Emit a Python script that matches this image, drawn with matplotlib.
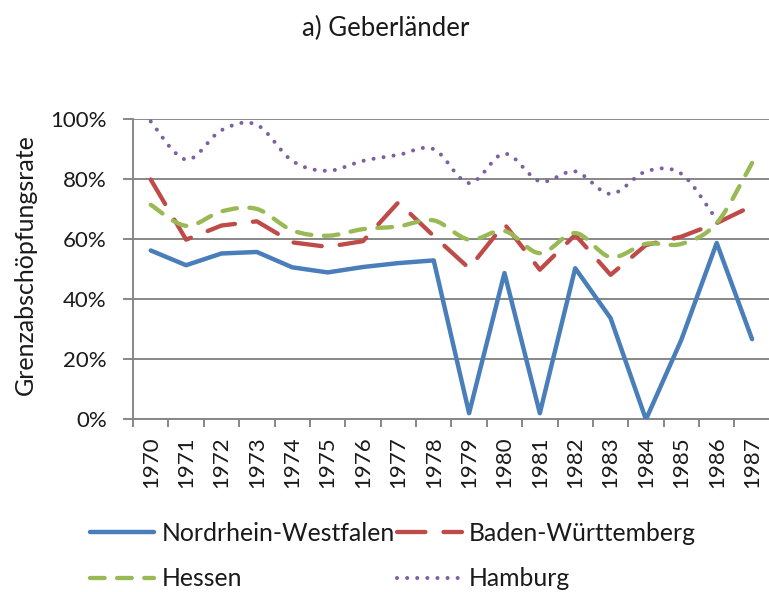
import matplotlib
matplotlib.use("Agg")
import matplotlib.pyplot as plt
from matplotlib.path import Path
from matplotlib.patches import PathPatch
from matplotlib.lines import Line2D
from matplotlib.ticker import PercentFormatter, FixedLocator

# category labels and series values (in %)
years = ["1970", "1971", "1972", "1973", "1974", "1975", "1976", "1977", "1978",
         "1979", "1980", "1981", "1982", "1983", "1984", "1985", "1986", "1987"]
nrw = [56.2, 51.3, 55.2, 55.7, 50.6, 48.9, 50.7, 52.0, 52.9,
       2.1, 48.7, 2.1, 50.3, 33.7, 0.0, 26.5, 58.7, 26.7]
bw = [79.8, 59.8, 64.5, 65.9, 58.9, 57.4, 59.3, 72.2, 61.0,
      50.3, 65.0, 49.8, 61.4, 48.1, 58.0, 60.8, 65.3, 71.0]
hessen = [71.4, 64.4, 69.2, 70.0, 62.9, 61.1, 63.3, 64.2, 66.2,
          59.8, 62.7, 55.3, 62.0, 54.0, 58.4, 58.4, 65.3, 85.3]
hamburg = [99.1, 86.4, 96.2, 98.0, 86.0, 82.7, 86.0, 88.0, 89.9,
           78.6, 88.4, 79.2, 82.5, 75.0, 82.5, 81.7, 66.4]

BLUE = "#4A7EBB"
RED = "#BE4B48"
GREEN = "#98B954"
PURPLE = "#7D60A0"
GRID = "#878787"
TEXT = "#1a1a1a"

plt.rcParams["font.family"] = ["Lato", "DejaVu Sans"]
plt.rcParams["text.color"] = TEXT
plt.rcParams["xtick.labelcolor"] = TEXT
plt.rcParams["ytick.labelcolor"] = TEXT


def smooth_path(values):
    """Excel-like smoothed line: cubic bezier through each data point."""
    pts = [(i, v) for i, v in enumerate(values)]
    verts = [pts[0]]
    codes = [Path.MOVETO]
    n = len(pts)
    for i in range(n - 1):
        p0 = pts[i - 1] if i > 0 else pts[i]
        p1 = pts[i]
        p2 = pts[i + 1]
        p3 = pts[i + 2] if i + 2 < n else pts[i + 1]
        c1 = (p1[0] + (p2[0] - p0[0]) / 6, p1[1] + (p2[1] - p0[1]) / 6)
        c2 = (p2[0] - (p3[0] - p1[0]) / 6, p2[1] - (p3[1] - p1[1]) / 6)
        verts += [c1, c2, p2]
        codes += [Path.CURVE4] * 3
    return Path(verts, codes)


fig = plt.figure(figsize=(7.69, 5.92), dpi=100)
ax = fig.add_axes([0.173, 0.2914, 0.828, 0.508])

x = range(len(years))
red_dash = (0, (6.6, 4.2))
green_dash = (0, (3.4, 2.9))
purple_dash = (0, (0.01, 2.5))

ax.plot(x, nrw, color=BLUE, lw=3.2, solid_capstyle="round", zorder=3)
ax.plot(x, bw, color=RED, lw=3.1, linestyle=red_dash, dash_capstyle="round", zorder=3)
ax.add_patch(PathPatch(smooth_path(hessen), fill=False, edgecolor=GREEN, lw=3.1,
                       linestyle=green_dash, capstyle="round", zorder=3))
ax.add_patch(PathPatch(smooth_path(hamburg), fill=False, edgecolor=PURPLE, lw=2.9,
                       linestyle=purple_dash, capstyle="round", zorder=3))

ax.set_xlim(-0.5, len(years) - 0.5)
ax.set_ylim(0, 100)
ax.yaxis.set_major_locator(FixedLocator([0, 20, 40, 60, 80, 100]))
ax.yaxis.set_major_formatter(PercentFormatter(decimals=0))
ax.grid(axis="y", color=GRID, lw=1.4)
ax.set_axisbelow(True)

# ticks between categories, labels at category centres
ax.xaxis.set_major_locator(FixedLocator([i - 0.5 for i in range(len(years) + 1)]))
ax.xaxis.set_minor_locator(FixedLocator(list(x)))
ax.set_xticklabels([""] * (len(years) + 1))
ax.set_xticklabels(years, minor=True, rotation=90, fontsize=16)
ax.tick_params(axis="x", which="major", length=6, width=1.4, color=GRID)
ax.tick_params(axis="x", which="minor", length=0, pad=12)
ax.tick_params(axis="y", length=7, width=1.4, color=GRID, labelsize=16, pad=12)

for side in ["top", "right"]:
    ax.spines[side].set_visible(False)
for side in ["left", "bottom"]:
    ax.spines[side].set_color(GRID)
    ax.spines[side].set_linewidth(1.4)

fig.text(386 / 769, 1 - 28 / 592, "a) Geberländer", ha="center", va="center", fontsize=18.5)
fig.text(25 / 769, 1 - 265 / 592, "Grenzabschöpfungsrate", rotation=90,
         ha="center", va="center", fontsize=18)

# legend is filled column-wise, so order entries to read row by row
handles = [
    Line2D([], [], color=BLUE, lw=3.2, solid_capstyle="round"),
    Line2D([], [], color=GREEN, lw=3.1, linestyle=green_dash, dash_capstyle="round"),
    Line2D([], [], color=RED, lw=3.1, linestyle=red_dash, dash_capstyle="round"),
    Line2D([], [], color=PURPLE, lw=2.9, linestyle=purple_dash, dash_capstyle="round"),
]
labels = ["Nordrhein-Westfalen", "Hessen", "Baden-Württemberg", "Hamburg"]
fig.legend(handles, labels, ncol=2, loc="upper left", bbox_to_anchor=(90 / 769, 1 - 522 / 592),
           frameon=False, fontsize=17.8, handlelength=2.6, handletextpad=0.3,
           columnspacing=0.1, labelspacing=0.9, borderpad=0, borderaxespad=0)

fig.savefig("out.png", dpi=100)
